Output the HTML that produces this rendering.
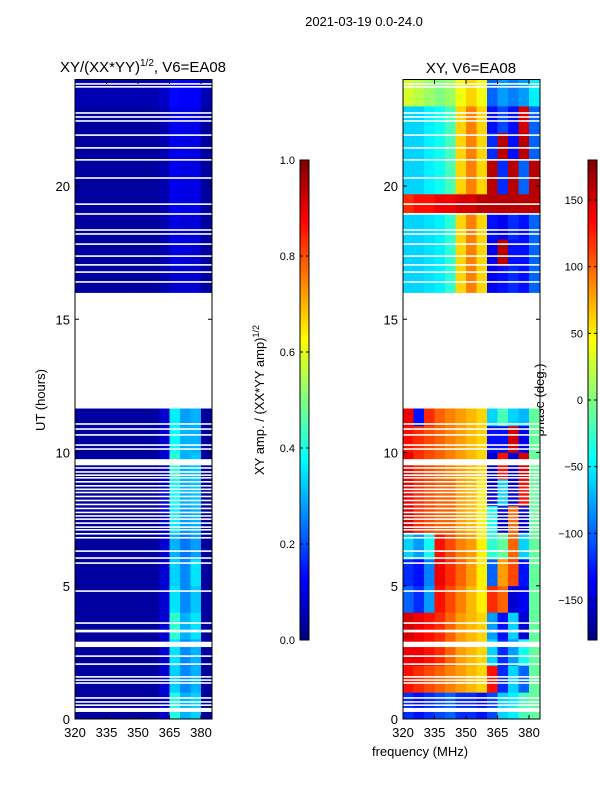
<!DOCTYPE html>
<html><head><meta charset="utf-8">
<style>
body{margin:0;background:#fff;font-family:"Liberation Sans",sans-serif;}
svg text{font-family:"Liberation Sans","DejaVu Sans",sans-serif;}
</style></head>
<body>
<svg id="fig" width="600" height="800" xmlns="http://www.w3.org/2000/svg">
<text x="364" y="26" font-size="13" text-anchor="middle">2021-03-19 0.0-24.0</text>
<text x="143" y="72" font-size="15" text-anchor="middle">XY/(XX*YY)<tspan font-size="10" dy="-6">1/2</tspan><tspan dy="6">, V6=EA08</tspan></text>
<text x="471" y="73" font-size="15" text-anchor="middle">XY, V6=EA08</text>
<text transform="translate(45,400) rotate(-90)" font-size="13" text-anchor="middle">UT (hours)</text>
<text x="420" y="756" font-size="13" text-anchor="middle">frequency (MHz)</text>
<text transform="translate(264,400) rotate(-90)" font-size="13" text-anchor="middle">XY amp. / (XX*YY amp)<tspan font-size="9" dy="-5">1/2</tspan></text>
<text transform="translate(544,400) rotate(-90)" font-size="13" text-anchor="middle">phase (deg.)</text>
<g id="left"></g>
<g id="right"></g>
<g id="cbars"></g>
<g id="axes"></g>
</svg>
<script>
const freqs=[320,325,330,335,340,345,350,355,360,365,370,375,380];
const rowStarts=[0,1,2,3,4,5,6,7,8,9,10,11,16,17,18,19,19.7,20,21,22,23];
const rowEnds=[1,2,3,4,5,6,7,8,9,10,11,11.65,17,18,19,19.7,20,21,22,23,24];
const ampRows=[
[0.03,0.03,0.03,0.03,0.03,0.03,0.03,0.03,0.08,0.4,0.3,0.33,0.03],
[0.03,0.03,0.03,0.03,0.03,0.03,0.03,0.03,0.08,0.33,0.26,0.3,0.03],
[0.03,0.03,0.03,0.03,0.03,0.03,0.03,0.03,0.08,0.35,0.26,0.3,0.03],
[0.03,0.03,0.03,0.03,0.03,0.03,0.03,0.03,0.08,0.42,0.3,0.35,0.03],
[0.03,0.03,0.03,0.03,0.03,0.03,0.03,0.03,0.08,0.35,0.26,0.32,0.03],
[0.03,0.03,0.03,0.03,0.03,0.03,0.03,0.03,0.08,0.33,0.26,0.35,0.03],
[0.03,0.03,0.03,0.03,0.03,0.03,0.03,0.03,0.08,0.3,0.24,0.28,0.03],
[0.03,0.03,0.03,0.03,0.03,0.03,0.03,0.03,0.08,0.36,0.28,0.3,0.03],
[0.03,0.03,0.03,0.03,0.03,0.03,0.03,0.03,0.08,0.38,0.3,0.32,0.03],
[0.03,0.03,0.03,0.03,0.03,0.03,0.03,0.03,0.08,0.42,0.3,0.32,0.03],
[0.03,0.03,0.03,0.03,0.03,0.03,0.03,0.03,0.08,0.38,0.3,0.3,0.03],
[0.03,0.03,0.03,0.03,0.03,0.03,0.03,0.03,0.08,0.36,0.28,0.3,0.03],
[0.03,0.03,0.03,0.03,0.03,0.03,0.03,0.03,0.05,0.08,0.08,0.08,0.03],
[0.03,0.03,0.03,0.03,0.03,0.03,0.03,0.03,0.05,0.1,0.09,0.08,0.03],
[0.03,0.03,0.03,0.03,0.03,0.03,0.03,0.03,0.05,0.1,0.09,0.09,0.03],
[0.03,0.03,0.03,0.03,0.03,0.03,0.03,0.03,0.05,0.11,0.1,0.1,0.03],
[0.03,0.03,0.03,0.03,0.03,0.03,0.03,0.03,0.05,0.11,0.1,0.1,0.03],
[0.03,0.03,0.03,0.03,0.03,0.03,0.03,0.03,0.05,0.11,0.1,0.1,0.03],
[0.03,0.03,0.03,0.03,0.03,0.03,0.03,0.03,0.05,0.11,0.1,0.1,0.03],
[0.03,0.03,0.03,0.03,0.03,0.03,0.03,0.03,0.05,0.11,0.1,0.1,0.03],
[0.05,0.05,0.05,0.05,0.05,0.05,0.05,0.05,0.07,0.13,0.12,0.12,0.05]];
const phaseRows=[
[-120,-130,-120,-110,-100,-120,-120,-130,-110,-60,-50,-20,-10],
[130,120,110,100,90,80,70,60,130,-120,-60,-100,-10],
[140,140,130,120,100,80,70,60,-60,-120,-80,-40,-10],
[150,140,130,120,100,80,70,60,-80,-130,-60,-150,-10],
[-100,-120,-80,130,110,90,70,50,120,100,-150,-140,-10],
[-120,-130,-90,140,120,100,80,50,-100,80,110,-130,-10],
[-60,-80,-40,130,110,90,80,50,-30,-10,100,-60,-10],
[150,120,110,100,100,80,70,50,-40,-150,100,-150,-10],
[140,120,110,100,100,80,70,50,-150,-60,-150,130,-10],
[140,120,110,100,90,80,70,60,-150,130,-150,150,-10],
[130,120,110,100,90,80,70,60,-130,-130,150,-140,-10],
[140,-130,120,100,90,80,70,60,-60,-20,-60,-70,-10],
[-60,-60,-55,-50,-30,60,90,60,-140,-130,-120,-130,-100],
[-60,-60,-55,-50,-30,60,90,60,-140,160,-130,-130,-100],
[-60,-60,-55,-50,-30,60,90,60,-130,-140,-120,-130,-100],
[120,130,130,140,140,150,150,160,160,160,160,160,160],
[-60,-60,-50,-40,-20,60,90,60,160,-120,160,-100,160],
[-60,-60,-50,-40,-20,60,90,60,160,-120,160,-100,160],
[-60,-60,-50,-40,-20,60,90,60,-120,160,-130,160,-100],
[-60,-60,-50,-40,-20,60,90,60,-130,-110,-130,150,-100],
[30,20,10,0,10,40,60,40,-100,-80,-90,-80,-50]];
const flagTimes=[0.34,0.52,0.64,0.79,1.35,1.46,1.58,2.06,2.36,2.8,3.3,3.6,4.8,5.85,6.04,6.3,6.8,6.95,7.1,7.2,7.35,7.5,7.62,7.75,7.9,8.05,8.2,8.35,8.5,8.62,8.75,8.9,9.05,9.15,9.27,9.42,9.62,9.7,10.13,10.28,10.66,10.88,11.07,16.4,16.77,17.04,17.37,17.82,18.2,18.35,18.95,19.32,20.3,20.98,21.43,21.91,22.44,22.59,22.74,23.72,23.83];
const flagWidths=[0.15,0.06,0.06,0.06,0.06,0.06,0.06,0.06,0.06,0.2,0.1,0.06,0.06,0.06,0.06,0.06,0.06,0.06,0.06,0.06,0.06,0.06,0.06,0.06,0.06,0.06,0.06,0.06,0.06,0.06,0.06,0.06,0.06,0.06,0.06,0.06,0.2,0.1,0.06,0.06,0.06,0.06,0.06,0.06,0.06,0.06,0.06,0.06,0.06,0.06,0.06,0.06,0.06,0.06,0.06,0.06,0.06,0.06,0.06,0.06,0.06];
const xTicks=[320,335,350,365,380];
const yTicks=[0,5,10,15,20];
const ampTicks=[0.0,0.2,0.4,0.6,0.8,1.0];
const phaseTicks=[-150,-100,-50,0,50,100,150];

const NS="http://www.w3.org/2000/svg";
function jet(v){v=Math.max(0,Math.min(1,v));
 const r=Math.max(0,Math.min(1,1.5-Math.abs(4*v-3)));
 const g=Math.max(0,Math.min(1,1.5-Math.abs(4*v-2)));
 const b=Math.max(0,Math.min(1,1.5-Math.abs(4*v-1)));
 return `rgb(${Math.round(r*255)},${Math.round(g*255)},${Math.round(b*255)})`;}
function mk(p,tag,attrs){const e=document.createElementNS(NS,tag);for(const k in attrs)e.setAttribute(k,attrs[k]);p.appendChild(e);return e;}
const yS=t=>719-t*26.65;
function xS(x0){return f=>x0+(f-320)*2.1;}
const panels=[{g:document.getElementById('left'),x0:75,rows:ampRows,norm:v=>v,nm:'amp-cell'},
 {g:document.getElementById('right'),x0:403,rows:phaseRows,norm:v=>(v+180)/360,nm:'phase-cell'}];
panels.forEach(P=>{
 const xs=xS(P.x0);
 rowStarts.forEach((t0,i)=>{
  freqs.forEach((f,j)=>{
   const x1=xs(f),x2=xs(f+5),y1=yS(rowEnds[i]),y2=yS(t0);
   const r=mk(P.g,'rect',{x:x1,y:y1,width:x2-x1+0.3,height:y2-y1+0.3,fill:jet(P.norm(P.rows[i][j]))});
   
   
  });
 });
 flagTimes.forEach((t,k)=>{
  const r=mk(P.g,'rect',{x:P.x0,y:yS(t+flagWidths[k]/2),width:137,height:flagWidths[k]*26.65,fill:'#fff'});
  
  
 });
});
const cb=document.getElementById('cbars');
mk(cb,'defs',{}).innerHTML='<linearGradient id="jetg" x1="0" y1="1" x2="0" y2="0">'+
 [0,0.125,0.25,0.375,0.5,0.625,0.75,0.875,1].map(v=>`<stop offset="${v}" stop-color="${jet(v)}"/>`).join('')+'</linearGradient>';
[[300,ampTicks,v=>v,v=>v.toFixed(1),'amp-colorbar'],[588,phaseTicks,v=>(v+180)/360,v=>String(v).replace('-','\u2212'),'phase-colorbar']].forEach(([x,ticks,n,fmt,nm])=>{
 const r=mk(cb,'rect',{x:x,y:160,width:9,height:480,fill:'url(#jetg)',stroke:'#000','stroke-width':1});
 
 
 ticks.forEach(v=>{const y=640-n(v)*480;
  mk(cb,'line',{x1:x,x2:x+3,y1:y,y2:y,stroke:'#000'});
  mk(cb,'line',{x1:x+6,x2:x+9,y1:y,y2:y,stroke:'#000'});
  const t=mk(cb,'text',{x:x-5,y:y+4,'font-size':11,'text-anchor':'end'});t.textContent=fmt(v);
  
  
 });
});
const ax=document.getElementById('axes');
[75,403].forEach((x0,pi)=>{
 const xs=xS(x0);
 mk(ax,'rect',{x:x0,y:79.5,width:137,height:639.5,fill:'none',stroke:'#000','stroke-width':1});
 xTicks.forEach(f=>{const x=xs(f);
  mk(ax,'line',{x1:x,x2:x,y1:719,y2:715,stroke:'#000'});
  mk(ax,'line',{x1:x,x2:x,y1:80,y2:84,stroke:'#000'});
  const t=mk(ax,'text',{x:x,y:737,'font-size':13,'text-anchor':'middle'});t.textContent=f;
  
  
 });
 yTicks.forEach(v=>{const y=yS(v);
  mk(ax,'line',{x1:x0,x2:x0+4,y1:y,y2:y,stroke:'#000'});
  mk(ax,'line',{x1:x0+133,x2:x0+137,y1:y,y2:y,stroke:'#000'});
  const t=mk(ax,'text',{x:x0-5,y:y+5,'font-size':13,'text-anchor':'end'});t.textContent=v;
  
  
 });
});
</script>
</body></html>
